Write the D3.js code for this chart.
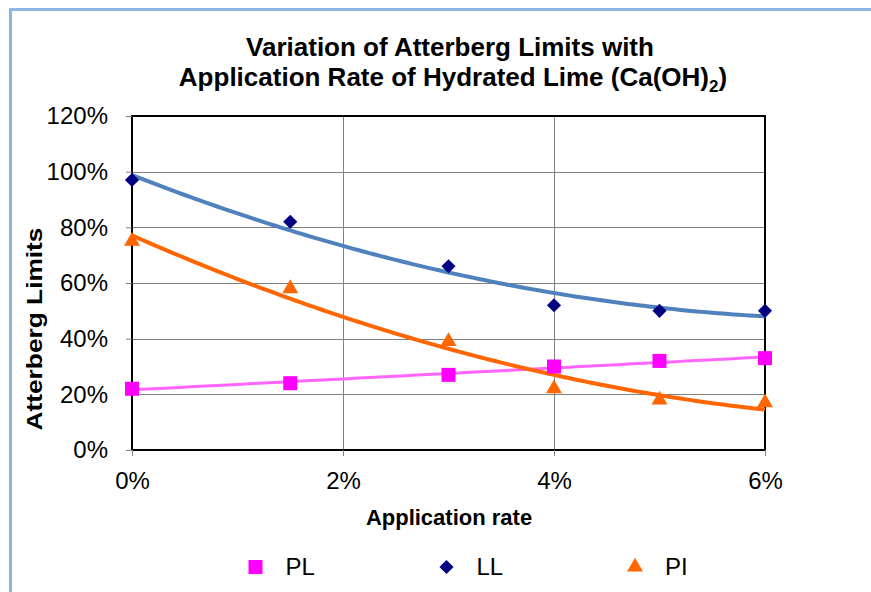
<!DOCTYPE html>
<html>
<head>
<meta charset="utf-8">
<script src="https://cdn.jsdelivr.net/npm/d3@7"></script>
<style>
  body { margin: 0; background: #fff; }
  svg { display: block; font-family: Arial, "Liberation Sans", sans-serif; }
</style>
</head>
<body>
<div id="chart"></div>
<script>
// application rate (fraction) and the three measured series (fractions)
const rates = [0, 0.015, 0.03, 0.04, 0.05, 0.06];
const plValues = [0.22, 0.24, 0.27, 0.30, 0.32, 0.33];
const llValues = [0.97, 0.82, 0.66, 0.52, 0.50, 0.50];
const piValues = [0.75, 0.58, 0.39, 0.22, 0.18, 0.17];
const xTicks = [0, 0.02, 0.04, 0.06];
const yTicks = [0, 0.2, 0.4, 0.6, 0.8, 1.0, 1.2];

const width = 871, height = 592;
const margin = { left: 132, right: 106, top: 116, bottom: 142 };

// least squares polynomial fit (Excel-style trendline)
function polyFit(xs, ys, order) {
  const n = order + 1;
  const A = Array.from({ length: n }, () => Array(n + 1).fill(0));
  xs.forEach((x, k) => {
    for (let i = 0; i < n; i++) {
      for (let j = 0; j < n; j++) A[i][j] += Math.pow(x, i + j);
      A[i][n] += ys[k] * Math.pow(x, i);
    }
  });
  // gaussian elimination
  for (let i = 0; i < n; i++) {
    let p = i;
    for (let r = i + 1; r < n; r++) if (Math.abs(A[r][i]) > Math.abs(A[p][i])) p = r;
    [A[i], A[p]] = [A[p], A[i]];
    for (let r = i + 1; r < n; r++) {
      const f = A[r][i] / A[i][i];
      for (let c = i; c <= n; c++) A[r][c] -= f * A[i][c];
    }
  }
  const coef = Array(n).fill(0);
  for (let i = n - 1; i >= 0; i--) {
    let s = A[i][n];
    for (let j = i + 1; j < n; j++) s -= A[i][j] * coef[j];
    coef[i] = s / A[i][i];
  }
  return x => coef.reduce((acc, c, i) => acc + c * Math.pow(x, i), 0);
}

const series = [
  { name: "PL", values: plValues, marker: "square", color: "#FF00FF", trend: "#FF66FF", order: 1 },
  { name: "LL", values: llValues, marker: "diamond", color: "#000080", trend: "#4F81BD", order: 2 },
  { name: "PI", values: piValues, marker: "triangle", color: "#FF6600", trend: "#FF6600", order: 2 }
];

const svg = d3.select("#chart").append("svg")
  .attr("width", width)
  .attr("height", height);

// outer chart border (only top and left visible)
svg.append("line").attr("x1", 9).attr("x2", width).attr("y1", 9.5).attr("y2", 9.5)
  .attr("stroke", "#8DB4E2").attr("stroke-width", 3);
svg.append("line").attr("x1", 10.5).attr("x2", 10.5).attr("y1", 8).attr("y2", height)
  .attr("stroke", "#8DB4E2").attr("stroke-width", 3);

const x = d3.scaleLinear().domain([0, 0.06]).range([margin.left, width - margin.right]);
const y = d3.scaleLinear().domain([0, 1.2]).range([height - margin.bottom, margin.top]);

// gridlines
svg.append("g")
  .selectAll("line")
  .data(yTicks.slice(1, -1))
  .join("line")
  .attr("x1", x(0)).attr("x2", x(0.06))
  .attr("y1", d => Math.round(y(d)) + 0.5).attr("y2", d => Math.round(y(d)) + 0.5)
  .attr("stroke", "#808080").attr("stroke-width", 1);
svg.append("g")
  .selectAll("line")
  .data(xTicks.slice(1, -1))
  .join("line")
  .attr("x1", d => Math.round(x(d)) + 0.5).attr("x2", d => Math.round(x(d)) + 0.5)
  .attr("y1", y(1.2)).attr("y2", y(0))
  .attr("stroke", "#808080").attr("stroke-width", 1);

// plot frame
svg.append("rect")
  .attr("x", x(0)).attr("y", y(1.2))
  .attr("width", x(0.06) - x(0)).attr("height", y(0) - y(1.2))
  .attr("fill", "none").attr("stroke", "#000").attr("stroke-width", 2);

// axes
const yAxis = svg.append("g")
  .attr("transform", `translate(${x(0)},0)`)
  .call(d3.axisLeft(y).tickValues(yTicks).tickFormat(d3.format(".0%")).tickSize(6).tickPadding(18));
yAxis.select(".domain").remove();
yAxis.selectAll(".tick line").attr("stroke", "#808080");
yAxis.selectAll("text").attr("font-size", 24).attr("fill", "#000");

const xAxis = svg.append("g")
  .attr("transform", `translate(0,${y(0)})`)
  .call(d3.axisBottom(x).tickValues(xTicks).tickFormat(d3.format(".0%")).tickSize(6).tickPadding(16));
xAxis.select(".domain").remove();
xAxis.selectAll(".tick line").attr("stroke", "#808080");
xAxis.selectAll("text").attr("font-size", 24).attr("fill", "#000");

// trendlines
const xs = d3.range(0, 0.0601, 0.0005);
const line = d3.line().x(d => x(d[0])).y(d => y(d[1]));
series.forEach(s => {
  const f = polyFit(rates, s.values, s.order);
  svg.append("path")
    .datum(xs.map(v => [v, f(v)]))
    .attr("d", line)
    .attr("fill", "none")
    .attr("stroke", s.trend)
    .attr("stroke-width", s.name === "PL" ? 3 : 4);
});

// markers
function marker(sel, s) {
  if (s.marker === "square") {
    sel.attr("d", d3.symbol().type(d3.symbolSquare).size(196));
  } else if (s.marker === "diamond") {
    sel.attr("d", d3.symbol().type(d3.symbolSquare).size(100));
  } else {
    sel.attr("d", d3.symbol().type(d3.symbolTriangle).size(110));
  }
  sel.attr("fill", s.color);
}
series.forEach(s => {
  svg.append("g")
    .selectAll("path")
    .data(s.values.map((v, i) => [rates[i], v]))
    .join("path")
    .attr("transform", d => `translate(${x(d[0])},${y(d[1])})` + (s.marker === "diamond" ? " rotate(45)" : ""))
    .call(marker, s);
});

// title
const title = svg.append("text")
  .attr("x", 450).attr("y", 56)
  .attr("text-anchor", "middle")
  .attr("font-size", 26).attr("font-weight", "bold");
title.append("tspan").attr("x", 450).text("Variation of Atterberg Limits with");
const t2 = title.append("tspan").attr("x", 453).attr("dy", 30);
t2.append("tspan").text("Application Rate of Hydrated Lime (Ca(OH)");
t2.append("tspan").attr("font-size", 17).attr("dy", 6).text("2");
t2.append("tspan").attr("dy", -6).text(")");

// axis titles
svg.append("text")
  .attr("x", 449).attr("y", 525)
  .attr("text-anchor", "middle")
  .attr("font-size", 22).attr("font-weight", "bold")
  .text("Application rate");
svg.append("text")
  .attr("transform", `translate(42,329) rotate(-90)`)
  .attr("text-anchor", "middle")
  .attr("font-size", 22).attr("font-weight", "bold")
  .attr("textLength", 203).attr("lengthAdjust", "spacingAndGlyphs")
  .text("Atterberg Limits");

// legend
const legendX = [255.5, 446.5, 635];
series.forEach((s, i) => {
  const g = svg.append("g").attr("transform", `translate(${legendX[i]},567)`);
  g.append("path").call(marker, s)
    .attr("transform", s.marker === "diamond" ? "rotate(45)" : null);
  g.append("text").attr("x", 30).attr("y", 8)
    .attr("font-size", 24).text(s.name);
});
</script>
</body>
</html>
